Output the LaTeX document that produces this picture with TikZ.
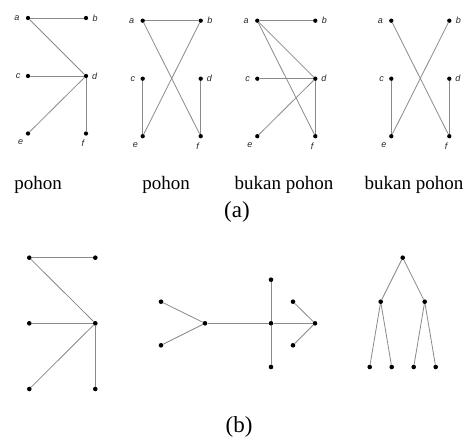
\documentclass[tikz,border=0pt]{standalone}
\usepackage{fontspec}
\setmainfont{Liberation Serif}
\newfontfamily\vfont{Liberation Sans}
\usepackage{tikz}
\usetikzlibrary{positioning}
\definecolor{edgegray}{HTML}{8A8A8A}
\tikzset{
  dot/.style={circle,fill=black,inner sep=0pt,minimum size=4.3pt},
  bigdot/.style={circle,fill=black,inner sep=0pt,minimum size=4.6pt},
  edge/.style={draw=edgegray,line width=0.8pt},
  vlabel/.style={font=\vfont\itshape\fontsize{9}{10}\selectfont,inner sep=1pt,text=black!85},
  caption/.style={font=\fontsize{19}{21}\selectfont,inner sep=0pt},
  part/.style={font=\fontsize{23}{25}\selectfont,inner sep=0pt}
}

\begin{document}
\begin{tikzpicture}[x=1pt,y=-1pt]
  \useasboundingbox (0,0) rectangle (468,441);
  % (a) four graphs on six vertices
  \foreach \g/\gx/\gy in {1/28/18, 2/142.7/20.7, 3/257.3/20.7, 4/391.3/20.7}{
    \foreach \n/\x/\y/\p/\ld in {a/0/0/180/5pt, b/58/0/0/3pt, c/0/58/180/4pt,
                                 d/58/58/0/2.5pt, e/0/115.5/-125/4pt, f/58/115.5/-98/3pt}
      \node[dot,label={[vlabel,label distance=\ld]\p:\n}] (g\g\n) at (\gx+\x,\gy+\y) {};
  }
  \draw[edge] (g1a) -- (g1b);
  \draw[edge] (g1a) -- (g1d);
  \draw[edge] (g1c) -- (g1d);
  \draw[edge] (g1e) -- (g1d);
  \draw[edge] (g1d) -- (g1f);
  \draw[edge] (g2a) -- (g2b);
  \draw[edge] (g2a) -- (g2f);
  \draw[edge] (g2b) -- (g2e);
  \draw[edge] (g2c) -- (g2e);
  \draw[edge] (g2d) -- (g2f);
  \draw[edge] (g3a) -- (g3b);
  \draw[edge] (g3a) -- (g3d);
  \draw[edge] (g3a) -- (g3f);
  \draw[edge] (g3c) -- (g3d);
  \draw[edge] (g3e) -- (g3d);
  \draw[edge] (g3d) -- (g3f);
  \draw[edge] (g4a) -- (g4f);
  \draw[edge] (g4b) -- (g4e);
  \draw[edge] (g4c) -- (g4e);
  \draw[edge] (g4d) -- (g4f);
  \node[caption] (cap1) at (38,185) {pohon};
  \node[caption] (cap2) at (166,185) {pohon};
  \node[caption] (cap3) at (284,185) {bukan pohon};
  \node[caption] (cap4) at (414,185) {bukan pohon};
  \node[part] (parta) at (237,212) {(a)};
  % (b) three trees
  \node[bigdot] (p1) at (29.3,257.7) {};
  \node[bigdot] (p2) at (95.3,257.7) {};
  \node[bigdot] (p3) at (29.3,323.3) {};
  \node[bigdot] (p4) at (95.3,323.3) {};
  \node[bigdot] (p5) at (29.3,389) {};
  \node[bigdot] (p6) at (95.3,389) {};
  \draw[edge] (p1) -- (p2);
  \draw[edge] (p1) -- (p4);
  \draw[edge] (p3) -- (p4);
  \draw[edge] (p5) -- (p4);
  \draw[edge] (p4) -- (p6);
  \node[bigdot] (q1) at (161,301.7) {};
  \node[bigdot] (q2) at (161,345.3) {};
  \node[bigdot] (q3) at (205,323.3) {};
  \node[bigdot] (q4) at (271,279.7) {};
  \node[bigdot] (q5) at (271,323.3) {};
  \node[bigdot] (q6) at (271,367) {};
  \node[bigdot] (q7) at (293,301.7) {};
  \node[bigdot] (q8) at (293,345.3) {};
  \node[bigdot] (q9) at (315,323.3) {};
  \draw[edge] (q1) -- (q3);
  \draw[edge] (q2) -- (q3);
  \draw[edge] (q3) -- (q5);
  \draw[edge] (q5) -- (q9);
  \draw[edge] (q4) -- (q5);
  \draw[edge] (q5) -- (q6);
  \draw[edge] (q7) -- (q9);
  \draw[edge] (q8) -- (q9);
  \node[bigdot] (r1) at (402.7,257.7) {};
  \node[bigdot] (r2) at (380.7,301.7) {};
  \node[bigdot] (r3) at (424.7,301.7) {};
  \node[bigdot] (r4) at (369.7,367) {};
  \node[bigdot] (r5) at (391.7,367) {};
  \node[bigdot] (r6) at (413.7,367) {};
  \node[bigdot] (r7) at (435.7,367) {};
  \draw[edge] (r1) -- (r2);
  \draw[edge] (r1) -- (r3);
  \draw[edge] (r2) -- (r4);
  \draw[edge] (r2) -- (r5);
  \draw[edge] (r3) -- (r6);
  \draw[edge] (r3) -- (r7);
  \node[part] (partb) at (239,427) {(b)};
\end{tikzpicture}
\end{document}
